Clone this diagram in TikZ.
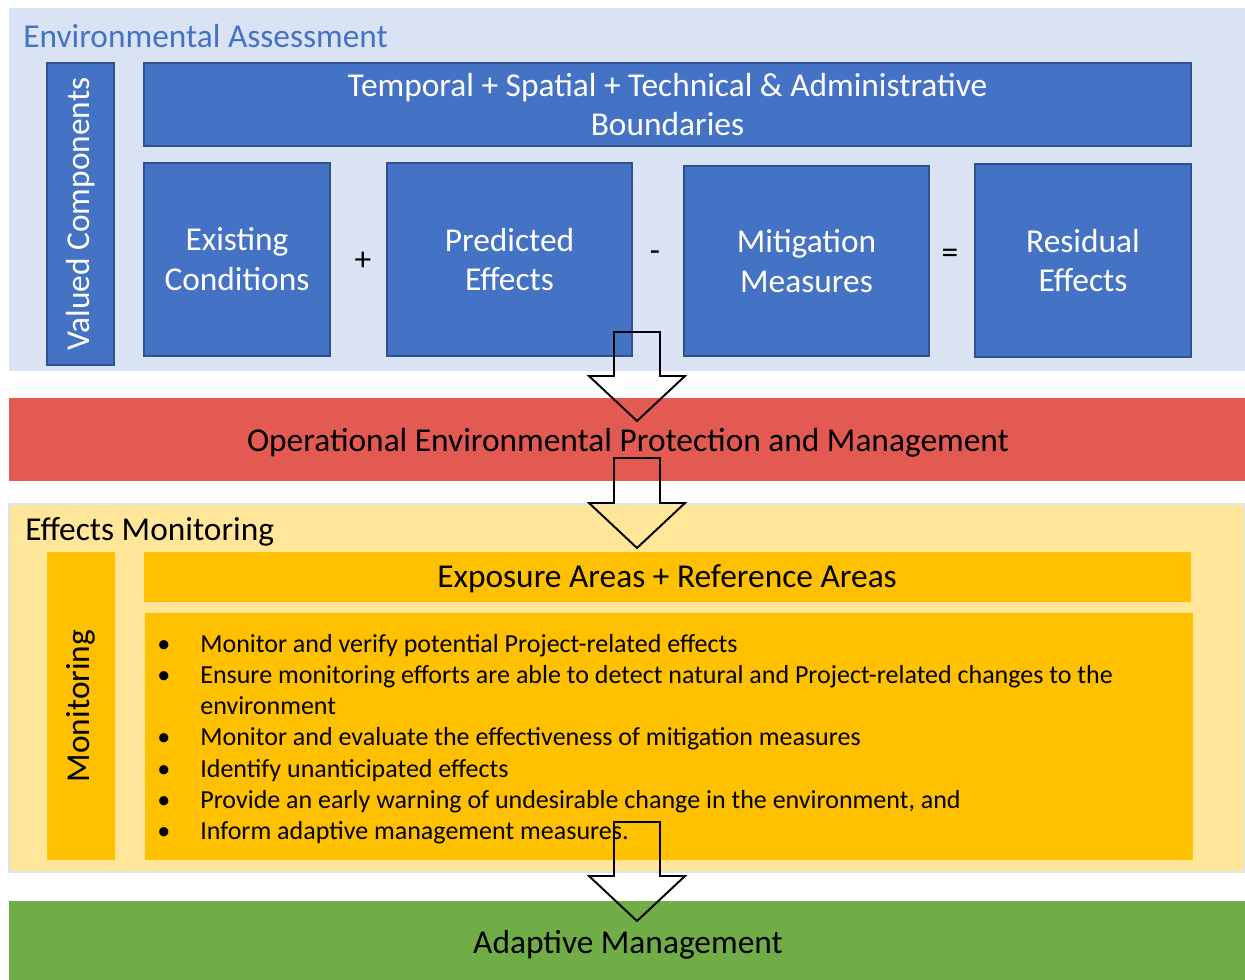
\documentclass[tikz,border=0pt]{standalone}
\usepackage{fontspec}
\setmainfont{Carlito}
\usetikzlibrary{positioning}

\definecolor{eablue}{HTML}{4472C4}
\definecolor{eaedge}{HTML}{2F528F}
\definecolor{eaback}{HTML}{DAE3F3}
\definecolor{opred}{HTML}{E35A52}
\definecolor{emback}{HTML}{FFE699}
\definecolor{emgold}{HTML}{FFC000}
\definecolor{amgreen}{HTML}{70AD47}

\newlength\px
\setlength\px{0.02cm}

\tikzset{
  panel/.style={inner sep=0pt, minimum width=1236\px},
  bluebox/.style={draw=eaedge, fill=eablue, line width=0.9pt, text=white, align=center, inner sep=0pt, font=\fontsize{19}{22.7}\selectfont},
  goldbox/.style={fill=emgold, inner sep=0pt, font=\fontsize{19}{22.7}\selectfont},
  sign/.style={inner sep=0pt, font=\fontsize{19}{22.7}\selectfont},
  heading/.style={inner sep=0pt, anchor=west, font=\fontsize{19}{22.7}\selectfont},
  blockarrow/.style={draw=black, line width=1.1pt, line join=miter}
}

% hollow block arrow, #2 = shaft length
\newcommand{\downblock}[2]{%
  \draw[blockarrow, shift={(#1)}] (-23,0) -- (23,0) -- (23,#2) -- (48,#2) -- (0,#2+45) -- (-48,#2) -- (-23,#2) -- cycle;}

\begin{document}
\begin{tikzpicture}[x=1\px, y=-1\px]
    \useasboundingbox (0,0) rectangle (1245,980);
    % Environmental Assessment
    \node[panel, fill=eaback, minimum height=363\px] (ea) at (627,189.5) {};
    \node[heading, text=eablue] (eatitle) at (23,36) {Environmental Assessment};
    \node[bluebox, rotate=90, minimum width=302\px, minimum height=67\px] (vc) at (80.5,214) {Valued Components};
    \node[bluebox, minimum width=1047\px, minimum height=83\px] (bounds) at (667.5,104.5) {Temporal + Spatial + Technical \& Administrative\\Boundaries};
    \node[bluebox, minimum width=186\px, minimum height=193\px] (exist) at (237,259.5) {Existing\\Conditions};
    \node[bluebox, minimum width=245\px, minimum height=193\px] (pred) at (509.5,259.5) {Predicted\\Effects};
    \node[bluebox, minimum width=245\px, minimum height=190\px] (mitig) at (806.5,261) {Mitigation\\Measures};
    \node[bluebox, minimum width=216\px, minimum height=193\px] (resid) at (1083,260.5) {Residual\\Effects};
    \node[sign] (plus) at (363,261) {+};
    \node[sign] (minus) at (655,256) {-};
    \node[sign] (equals) at (950,256) {=};

    % Operational band
    \node[panel, fill=opred, minimum height=83\px] (oper) at (627,439.5) {};
    \node[sign] (opertext) at (628,443) {Operational Environmental Protection and Management};

    % Effects Monitoring
    \node[panel, fill=emback, draw=eaback, line width=0.6pt, minimum height=368\px] (em) at (627,688) {};
    \node[heading] (emtitle) at (25,532) {Effects Monitoring};
    \node[goldbox, rotate=90, minimum width=308\px, minimum height=68\px] (mon) at (81,706) {Monitoring};
    \node[goldbox, minimum width=1047\px, minimum height=50\px] (areas) at (667.5,577) {};
    \node[sign] (areastext) at (667,579) {Exposure Areas + Reference Areas};
    \node[goldbox, minimum width=1048\px, minimum height=247\px] (tasks) at (669,736.5) {};
    \node[inner sep=0pt, anchor=base west, font=\fontsize{14.8}{17.8}\selectfont] (tasklist) at (157,652) {%
      \begin{tabular}[t]{@{}p{43\px}@{}l@{}}
        \textbullet & Monitor and verify potential Project-related effects\\
        \textbullet & Ensure monitoring efforts are able to detect natural and Project-related changes to the\\
                    & environment\\
        \textbullet & Monitor and evaluate the effectiveness of mitigation measures\\
        \textbullet & Identify unanticipated effects\\
        \textbullet & Provide an early warning of undesirable change in the environment, and\\
        \textbullet & Inform adaptive management measures.
      \end{tabular}};

    % Adaptive Management
    \node[panel, fill=amgreen, minimum height=82\px] (adapt) at (627,942) {};
    \node[sign] (adapttext) at (628,945) {Adaptive Management};

    % block arrows
    \coordinate (arrA) at (637,332);
    \coordinate (arrB) at (637,458);
    \coordinate (arrC) at (637,822);
    \downblock{arrA}{44}
    \downblock{arrB}{45}
    \downblock{arrC}{54}
\end{tikzpicture}
\end{document}
